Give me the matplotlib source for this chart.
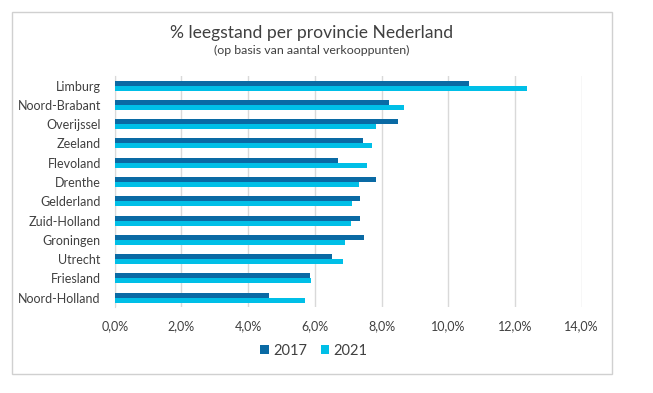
import matplotlib
matplotlib.use("Agg")
import matplotlib.pyplot as plt
import numpy as np
from matplotlib.patches import Rectangle
from matplotlib.ticker import FuncFormatter

provinces = ["Limburg", "Noord-Brabant", "Overijssel", "Zeeland", "Flevoland", "Drenthe",
             "Gelderland", "Zuid-Holland", "Groningen", "Utrecht", "Friesland", "Noord-Holland"]
v2017 = [10.63, 8.23, 8.50, 7.45, 6.71, 7.84, 7.36, 7.36, 7.48, 6.53, 5.87, 4.62]
v2021 = [12.37, 8.68, 7.84, 7.72, 7.57, 7.33, 7.12, 7.08, 6.92, 6.86, 5.90, 5.72]
series_labels = ["2017", "2021"]
title = "% leegstand per provincie Nederland"
subtitle = "(op basis van aantal verkooppunten)"

c2017 = "#0A6AA4"
c2021 = "#00BFE7"
txt = "#404040"

plt.rcParams['font.family'] = ['Lato', 'DejaVu Sans']

W, H = 653, 393
fig = plt.figure(figsize=(W / 100, H / 100), dpi=100)
fig.patch.set_facecolor("white")

# outer border
fig.add_artist(Rectangle((11.5 / W, 1 - 373.5 / H), (611.5 - 11.5) / W, (373.5 - 11.5) / H,
                         transform=fig.transFigure, fill=False, edgecolor="#D0D0D0", lw=1))

x0, x1 = 114.7, 581.6
y0, y1 = 76.0, 307.3
ax = fig.add_axes([x0 / W, 1 - y1 / H, (x1 - x0) / W, (y1 - y0) / H])

n = len(provinces)
y = np.arange(n)
h = 0.26
ax.barh(y - h / 2, v2017, height=h, color=c2017, label=series_labels[0], zorder=3)
ax.barh(y + h / 2, v2021, height=h, color=c2021, label=series_labels[1], zorder=3)
ax.set_ylim(n - 0.5, -0.5)
ax.set_xlim(0, 14)
ax.set_xticks(np.arange(0, 14.1, 2))
ax.xaxis.set_major_formatter(FuncFormatter(lambda v, p: f"{v:.1f}%".replace(".", ",")))
ax.set_yticks(y)
ax.set_yticklabels(provinces)
ax.grid(axis="x", color="#D9D9D9", lw=1, zorder=0)
for s in ["top", "right", "bottom"]:
    ax.spines[s].set_visible(False)
ax.spines["left"].set_color("#D9D9D9")
ax.tick_params(axis="both", length=0, colors=txt, labelsize=9)
ax.tick_params(axis="x", pad=9)
ax.tick_params(axis="y", pad=10)

fig.text(311.5 / W, 1 - 33 / H, title, ha="center", va="center", fontsize=12.6, color=txt)
fig.text(311.5 / W, 1 - 50 / H, subtitle, ha="center", va="center", fontsize=8.9, color=txt)

leg = fig.legend(loc="center", bbox_to_anchor=(314 / W, 1 - 351 / H), ncol=2, frameon=False,
                 fontsize=10.5, handlelength=0.6, handleheight=0.6, handletextpad=0.3,
                 columnspacing=0.9, labelcolor=txt)

fig.savefig("out.png", dpi=100, facecolor="white")
